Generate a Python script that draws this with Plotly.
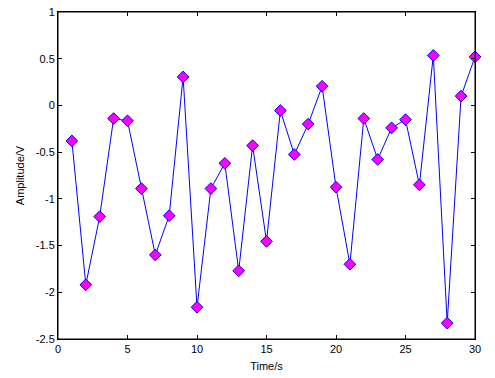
import plotly.graph_objects as go

time_s = list(range(1, 31))
amplitude_v = [-0.38, -1.92, -1.19, -0.14, -0.165, -0.89, -1.60, -1.18, 0.305, -2.16,
               -0.89, -0.62, -1.77, -0.43, -1.455, -0.055, -0.525, -0.20, 0.205, -0.875,
               -1.70, -0.14, -0.578, -0.24, -0.152, -0.85, 0.535, -2.33, 0.10, 0.52]

x_ticks = [0, 5, 10, 15, 20, 25, 30]
y_ticks = [1, 0.5, 0, -0.5, -1, -1.5, -2, -2.5]
y_tick_labels = ["1", "0.5", "0", "-0.5", "-1", "-1.5", "-2", "-2.5"]

fig = go.Figure()
fig.add_trace(go.Scatter(
    x=time_s, y=amplitude_v, mode="lines+markers",
    line=dict(color="#0000ff", width=1),
    marker=dict(symbol="diamond", size=9, color="#ff00ff",
                line=dict(color="#0000ff", width=1)),
    showlegend=False, cliponaxis=False,
))

axis_common = dict(showgrid=False, zeroline=False, showline=True, linecolor="black",
                   linewidth=1, mirror="allticks", ticks="inside", ticklen=4,
                   tickcolor="black", ticklabeloverflow="allow", automargin=False,
                   tickfont=dict(family="Liberation Sans", size=11, color="black"))

fig.update_layout(
    width=495, height=378,
    margin=dict(l=58, r=20, t=12, b=39, autoexpand=False),
    paper_bgcolor="white", plot_bgcolor="white",
    font=dict(family="Liberation Sans", size=11, color="black"),
    xaxis=dict(range=[0, 30], tickvals=x_ticks,
               title=dict(text="Time/s", standoff=8, font=dict(size=11)), **axis_common),
    yaxis=dict(range=[-2.5, 1], tickvals=y_ticks, ticktext=y_tick_labels,
               title=dict(text="Amplitude/V", standoff=8, font=dict(size=11)), **axis_common),
    shapes=[dict(type="rect", xref="paper", yref="paper", x0=0, y0=0, x1=1, y1=1,
                 line=dict(color="black", width=1), layer="above")],
)

fig.write_html("out.html", config={"displayModeBar": False},
               post_script="document.body.style.margin='0';document.body.style.overflow='hidden';")
